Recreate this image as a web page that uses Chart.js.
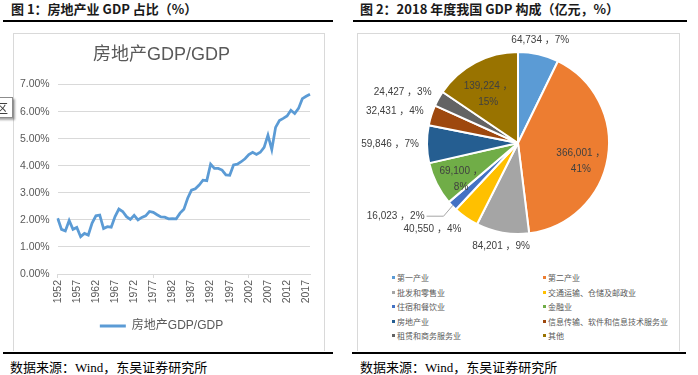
<!DOCTYPE html>
<html>
<head>
<meta charset="utf-8">
<script src="https://cdn.jsdelivr.net/npm/chart.js@4.4.1/dist/chart.umd.min.js"></script>
<style>
  html, body { margin: 0; padding: 0; background: #fff; }
  body { width: 698px; height: 375px; position: relative; overflow: hidden; font-family: 'Noto Sans CJK SC', sans-serif; }
  .title { position: absolute; top: 0; font-size: 13px; font-weight: bold; color: #1a1a1a; line-height: 17px; }
  .rule { position: absolute; height: 2px; background: #000; }
  .box { position: absolute; border: 1px solid #d9d9d9; border-bottom: none; box-sizing: border-box; }
  .source { position: absolute; top: 359px; font-size: 13px; line-height: 17px; color: #000; font-family: 'Liberation Serif', 'Noto Sans CJK SC', serif; }
  canvas { position: absolute; }
  #tip { position: absolute; left: -6px; top: 97px; width: 19px; height: 21px; background: #fff; border: 1px solid #8c8c8c; box-shadow: 2px 2px 2px rgba(0,0,0,0.35); box-sizing: border-box; font-size: 12px; line-height: 19px; color: #404040; text-indent: 1px; }
  #legend2 { position: absolute; left: 390px; top: 273px; width: 290px; font-size: 8px; color: #595959; }
  #legend2 .item { position: absolute; white-space: nowrap; line-height: 10px; }
  #legend2 .mk { display: inline-block; width: 3px; height: 3px; margin-right: 2px; vertical-align: middle; position: relative; top: -1px; }
</style>
</head>
<body>
<div class="title" style="left:11px;">图 1：房地产业 GDP 占比（%）</div>
<div class="title" style="left:360px;">图 2：2018 年度我国 GDP 构成（亿元，%）</div>
<div class="rule" style="left:3px; width:330px; top:20px;"></div>
<div class="rule" style="left:353px; width:334px; top:20px;"></div>

<div class="box" style="left:13px; top:33px; width:312px; height:318px;"></div>
<div class="box" style="left:357px; top:33px; width:323px; height:318px;"></div>

<canvas id="shareChart" style="left:13px; top:33px;" width="311" height="317"></canvas>
<canvas id="gdpChart" style="left:357px; top:33px;" width="322" height="227"></canvas>
<div id="legend2"></div>
<div id="tip">区</div>

<div class="rule" style="left:3px; width:330px; top:352px;"></div>
<div class="rule" style="left:352px; width:334px; top:352px;"></div>
<div class="source" style="left:10px;">数据来源：Wind，东吴证券研究所</div>
<div class="source" style="left:360px;">数据来源：Wind，东吴证券研究所</div>

<script>
// Data for the real estate share line chart (%)
const years = ['1952','1953','1954','1955','1956','1957','1958','1959','1960','1961',
  '1962','1963','1964','1965','1966','1967','1968','1969','1970','1971',
  '1972','1973','1974','1975','1976','1977','1978','1979','1980','1981',
  '1982','1983','1984','1985','1986','1987','1988','1989','1990','1991',
  '1992','1993','1994','1995','1996','1997','1998','1999','2000','2001',
  '2002','2003','2004','2005','2006','2007','2008','2009','2010','2011',
  '2012','2013','2014','2015','2016','2017','2018'];
const shareValues = [2.06, 1.65, 1.59, 1.98, 1.65, 1.72, 1.38, 1.50, 1.44, 1.88,
  2.15, 2.18, 1.68, 1.75, 1.73, 2.12, 2.40, 2.31, 2.12, 2.02,
  2.17, 2.00, 2.09, 2.15, 2.31, 2.28, 2.19, 2.11, 2.10, 2.04,
  2.05, 2.04, 2.25, 2.39, 2.80, 3.10, 3.15, 3.29, 3.47, 3.45,
  4.06, 3.90, 3.90, 3.84, 3.66, 3.65, 4.03, 4.06, 4.15, 4.26,
  4.41, 4.50, 4.42, 4.50, 4.68, 5.13, 4.60, 5.42, 5.67, 5.75,
  5.84, 6.05, 5.93, 6.12, 6.48, 6.57, 6.64];
const shareLabel = '房地产GDP/GDP';

// Data for the 2018 GDP composition pie (亿元, %)
const sectors = ['第一产业', '第二产业', '批发和零售业', '交通运输、仓储及邮政业', '住宿和餐饮业',
  '金融业', '房地产业', '信息传输、软件和信息技术服务业', '租赁和商务服务业', '其他'];
const gdpValues = [64734, 366001, 84201, 40550, 16023, 69100, 59846, 32431, 24427, 139224];
const gdpPercents = [7, 41, 9, 4, 2, 8, 7, 4, 3, 15];

const sectorColors = ['#5B9BD5', '#ED7D31', '#A5A5A5', '#FFC000', '#4472C4',
  '#70AD47', '#255E91', '#9E480E', '#636363', '#997300'];
// where each pie label goes: inside, outside or outside with a leader line
const labelModes = ['out', 'in', 'out', 'out', 'leader', 'in', 'out', 'out', 'out', 'in'];

const FONT = "'Liberation Sans', 'Noto Sans CJK SC', sans-serif";
const GREY = '#595959';
const GRID = '#d9d9d9';

// ---- line chart ----
new Chart(document.getElementById('shareChart').getContext('2d'), {
  type: 'line',
  data: {
    labels: years,
    datasets: [{
      label: shareLabel,
      data: shareValues,
      borderColor: '#5B9BD5',
      backgroundColor: '#5B9BD5',
      borderWidth: 2.75,
      pointRadius: 0,
      tension: 0
    }]
  },
  options: {
    responsive: false,
    animation: false,
    layout: { padding: { top: 0, right: 14, bottom: 8, left: 0 } },
    scales: {
      x: {
        afterFit: function(scale) { scale.height = 36; },
        grid: {
          drawOnChartArea: false,
          tickLength: 4,
          color: function(ctx) { return ctx.index % 5 === 0 ? GRID : 'rgba(0,0,0,0)'; }
        },
        border: { color: GRID },
        ticks: {
          autoSkip: false,
          minRotation: 90,
          maxRotation: 90,
          padding: 2,
          color: GREY,
          font: { family: FONT, size: 10.5 },
          callback: function(value, index) { return index % 5 === 0 ? years[index] : null; }
        }
      },
      y: {
        min: 0,
        max: 7,
        afterFit: function(scale) { scale.width = 44.7; },
        grid: { color: GRID, drawTicks: false },
        border: { display: false },
        ticks: {
          stepSize: 1,
          padding: 8,
          color: GREY,
          font: { family: FONT, size: 10.5 },
          callback: function(v) { return v.toFixed(2) + '%'; }
        }
      }
    },
    plugins: {
      title: {
        display: true,
        text: shareLabel,
        color: GREY,
        font: { family: FONT, size: 18, weight: 'normal' },
        padding: { top: 11, bottom: 19 }
      },
      legend: {
        display: true,
        position: 'bottom',
        labels: {
          boxWidth: 26,
          boxHeight: 3,
          color: GREY,
          padding: 10,
          font: { family: FONT, size: 12 },
          generateLabels: function(chart) {
            return chart.data.datasets.map(function(ds, i) {
              return {
                text: ds.label,
                fillStyle: ds.borderColor,
                strokeStyle: ds.borderColor,
                lineWidth: 0,
                fontColor: GREY,
                datasetIndex: i,
                hidden: false
              };
            });
          }
        }
      },
      tooltip: { enabled: false }
    }
  }
});

// ---- pie labels plugin ----
const pieLabels = {
  id: 'pieLabels',
  afterDatasetsDraw: function(chart) {
    const ctx = chart.ctx;
    const arcs = chart.getDatasetMeta(0).data;
    ctx.save();
    ctx.font = '10px ' + FONT;
    ctx.fillStyle = '#404040';
    ctx.textBaseline = 'middle';
    arcs.forEach(function(arc, i) {
      const mid = (arc.startAngle + arc.endAngle) / 2;
      const c = Math.cos(mid), s = Math.sin(mid);
      const R = arc.outerRadius;
      const num = gdpValues[i].toLocaleString('en-US');
      const pct = gdpPercents[i] + '%';
      if (labelModes[i] === 'in') {
        const x = arc.x + c * R * 0.7, y = arc.y + s * R * 0.7;
        ctx.textAlign = 'center';
        ctx.fillText(num + ' ，', x, y);
        ctx.fillText(pct, x, y + 16);
      } else if (labelModes[i] === 'leader') {
        const x1 = arc.x + c * (R - 1), y1 = arc.y + s * (R - 1);
        const x2 = arc.x + c * (R + 12), y2 = arc.y + s * (R + 12) + 2;
        ctx.strokeStyle = '#a6a6a6';
        ctx.lineWidth = 1;
        ctx.beginPath();
        ctx.moveTo(x1, y1);
        ctx.lineTo(x2, y2);
        ctx.lineTo(x2 - 17, y2);
        ctx.stroke();
        ctx.textAlign = 'right';
        ctx.fillText(num + ' ，' + pct, x2 - 19, y2);
      } else {
        let x = arc.x + c * (R + 8), y = arc.y + s * (R + 8) + s * 6;
        ctx.textAlign = c < -0.3 ? 'right' : (c > 0.3 ? 'left' : 'center');
        ctx.fillText(num + ' ，' + pct, x, y);
      }
    });
    ctx.restore();
  }
};

// ---- pie chart ----
new Chart(document.getElementById('gdpChart').getContext('2d'), {
  type: 'pie',
  data: {
    labels: sectors,
    datasets: [{
      data: gdpValues,
      backgroundColor: sectorColors,
      borderColor: '#ffffff',
      borderWidth: 2
    }]
  },
  options: {
    responsive: false,
    animation: false,
    layout: { padding: { top: 18, right: 69, bottom: 25, left: 69 } },
    plugins: {
      legend: { display: false },
      tooltip: { enabled: false }
    }
  },
  plugins: [pieLabels]
});

// ---- pie legend (two columns, row by row) ----
const legendBox = document.getElementById('legend2');
sectors.forEach(function(name, i) {
  const item = document.createElement('div');
  item.className = 'item';
  item.style.left = (i % 2 === 0 ? 2 : 153) + 'px';
  item.style.top = (Math.floor(i / 2) * 14.5) + 'px';
  const mk = document.createElement('span');
  mk.className = 'mk';
  mk.style.background = sectorColors[i];
  item.appendChild(mk);
  item.appendChild(document.createTextNode(name));
  legendBox.appendChild(item);
});
</script>
</body>
</html>
